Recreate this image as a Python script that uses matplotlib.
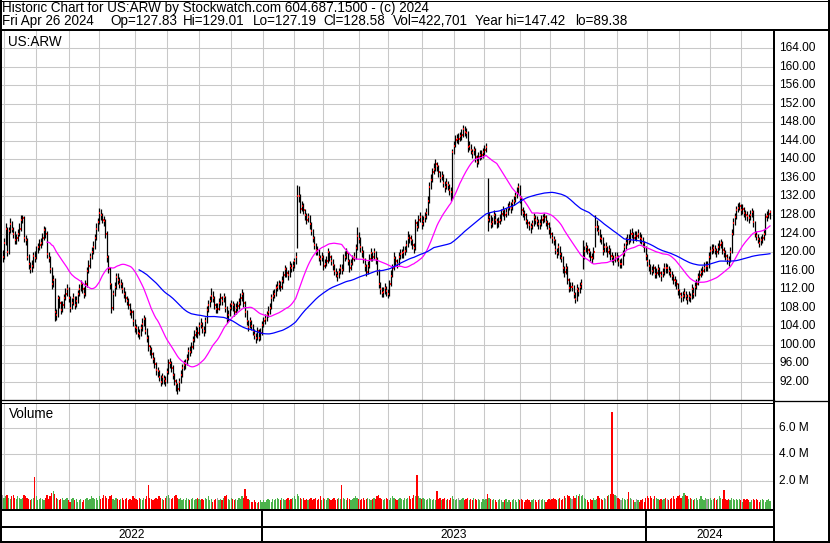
import numpy as np
import pandas as pd
import matplotlib
matplotlib.use('Agg')
import matplotlib.pyplot as plt

plt.rcParams['font.family'] = ['Liberation Sans', 'DejaVu Sans']

# trading calendar of the chart (NYSE holidays skipped)
start_day = '2022-04-29'
end_day = '2024-04-26'
holidays = ['2022-05-30', '2022-06-20', '2022-07-04', '2022-09-05', '2022-11-24',
            '2022-12-26', '2023-01-02', '2023-01-16', '2023-02-20', '2023-04-07',
            '2023-05-29', '2023-06-19', '2023-07-04', '2023-09-04', '2023-11-23',
            '2023-12-25', '2024-01-01', '2024-01-15', '2024-02-19', '2024-03-29']

# daily closes
close = [
    119, 122, 125, 120, 124.6, 126, 125, 124, 122.5, 123,
    124, 125, 127, 127.3, 123, 122.5, 119, 117.5, 116.4, 117,
    119.2, 118.8, 120.3, 121, 121.5, 122, 123, 124.7, 124, 119.5,
    118.8, 116.4, 113, 114, 107, 106.5, 110, 109, 107.5, 108.5,
    110, 111, 112, 110, 108, 109, 110, 108.6, 109.5, 111,
    112, 113, 112, 111, 113, 116, 117, 119, 120, 121,
    123, 125, 126.5, 128.5, 128, 127, 126.8, 124, 119, 116.4,
    113, 108, 111, 112.5, 114.5, 114, 113, 113.2, 112, 111,
    110, 109.5, 108.5, 107.1, 107, 105, 103.7, 103.5, 102.5, 102.3,
    103.5, 104.5, 105.5, 103, 101.5, 99.6, 99, 98, 97, 95.9,
    94.5, 94.2, 93, 92, 93, 92.5, 92.2, 94, 96, 96,
    95, 93.5, 92.2, 91.4, 90.5, 92, 93.5, 95, 95.5, 96,
    97, 98.7, 98.5, 99.5, 100.9, 102, 103, 102.5, 104, 104.5,
    103.5, 103, 105, 107.4, 108.5, 109.5, 110.6, 110, 108.5, 107.8,
    107.8, 109, 110, 109.5, 110.2, 108, 105.6, 106.5, 108, 108.7,
    108.5, 107, 108, 108.3, 109, 110, 111, 109, 107, 105,
    103.9, 105, 104, 103, 102, 101.5, 103, 101.5, 102.5, 104.3,
    105, 105.5, 106.3, 107, 108, 110, 110.5, 111, 112.3, 112.5,
    113, 112.5, 113.8, 115, 116.4, 115.5, 115, 117, 116.5, 117,
    118, 119, 132, 132.2, 129.4, 130, 129, 128, 127, 127.5,
    126, 124.5, 123.1, 121.5, 120.5, 120.3, 119, 118.4, 119, 117,
    117.5, 118, 119.9, 119, 118, 117.1, 116, 115.5, 114.9, 115.6,
    116.5, 116.2, 118.5, 119, 119.7, 118, 116.6, 117.5, 118.5, 119,
    120.8, 123.5, 122.9, 121, 120, 118.5, 117, 115.6, 117, 118.5,
    119.7, 119, 119.9, 118.5, 116, 113.2, 112, 111.2, 111.4, 112.3,
    111.5, 111, 113, 114.9, 116.5, 118.8, 118, 117.5, 119, 119.5,
    119.7, 120, 120.3, 121.5, 123.1, 123, 122.5, 121.5, 120.8, 126.2,
    125.5, 127, 127.5, 126, 126.8, 127.5, 128.5, 131, 134, 135.5,
    137.2, 138, 139.1, 138.5, 137.2, 136, 136.5, 135, 134, 135,
    134.4, 133.5, 133, 141.5, 143, 144.1, 144.5, 144.5, 145, 145.2,
    146.5, 146, 145.8, 142.6, 143, 142, 141.3, 142, 140.5, 139.4,
    140.5, 140.9, 141, 141.5, 142, 142.6, 127, 127.5, 126, 126.5,
    128, 127, 126.4, 126.5, 127, 128.3, 129, 128, 128.5, 129.6,
    130, 129.5, 130.5, 131.1, 132, 132.8, 134, 131.6, 129, 128.5,
    128, 126.8, 126.2, 125.8, 125.3, 126, 127.5, 127, 126.8, 126,
    126, 127, 127.3, 127.5, 126.5, 126, 125, 124, 123, 122.5,
    120.5, 119.7, 121, 119.5, 118.8, 116.5, 115.6, 116.6, 114, 112.3,
    112.5, 112.5, 111, 109.9, 112.1, 111.5, 112.5, 113.2, 119, 120.3,
    121, 120.5, 119.9, 119, 118.8, 120, 125.3, 125.5, 124.6, 123,
    122.9, 120.3, 121, 121, 120, 120.5, 119.2, 119, 118.2, 119,
    119, 118, 117.5, 117.5, 119.5, 121, 122, 122.9, 122.6, 124,
    124, 123, 123.5, 123.5, 124, 123, 122.9, 122, 121, 119.2,
    118, 117, 116.5, 116, 116.5, 115.3, 115.5, 116.4, 115.5, 114.9,
    115.5, 116.6, 116.5, 116.5, 116, 115.5, 114.9, 114, 113.8, 113,
    111.7, 111, 110.2, 110.5, 111.2, 110.5, 109.9, 110.5, 110.2, 112.1,
    111, 112.5, 113.2, 114.5, 115, 115.6, 116, 116.6, 117, 117,
    119, 120.3, 120.5, 120.8, 120.5, 119.9, 121, 121.5, 121.9, 120.5,
    120, 119.2, 118.5, 118.2, 120, 124, 126.2, 127.5, 129, 129.6,
    130, 129, 129.3, 128.5, 128, 127.8, 127.3, 128, 128.6, 126.4,
    124.2, 123.5, 122.9, 122, 122.5, 123, 124, 127.5, 127.8, 128.3,
    128.58]

# how far each day's high sits above the close
up = [
    1.5, 1.0, 1.2, 5.5, 0.8, 1.4, 1.6, 1.5, 2.0, 1.0,
    1.0, 1.2, 0.9, 0.8, 4.8, 1.2, 4.0, 2.0, 1.5, 1.2,
    0.8, 1.4, 1.0, 0.9, 1.3, 1.0, 1.2, 0.9, 1.5, 5.0,
    1.3, 2.8, 3.8, 1.0, 7.3, 1.2, 0.8, 1.5, 2.0, 1.0,
    1.0, 1.2, 1.0, 2.4, 2.5, 1.0, 1.2, 1.8, 1.0, 0.8,
    1.0, 0.9, 1.4, 1.5, 1.0, 0.8, 1.2, 0.8, 1.0, 1.3,
    1.0, 1.2, 0.9, 1.0, 1.2, 1.5, 1.0, 3.2, 5.5, 3.0,
    3.8, 5.4, 0.8, 1.0, 1.0, 1.4, 1.5, 1.0, 1.6, 1.4,
    1.5, 1.0, 1.5, 1.9, 0.8, 2.4, 1.8, 1.0, 1.5, 1.0,
    1.0, 1.2, 1.0, 3.0, 2.0, 2.4, 1.0, 1.5, 1.4, 1.5,
    1.8, 1.0, 1.6, 1.4, 0.8, 1.0, 1.0, 0.9, 0.8, 1.2,
    1.4, 2.0, 1.7, 1.2, 1.3, 0.8, 1.0, 0.9, 1.2, 1.0,
    1.0, 0.8, 1.2, 1.0, 0.9, 1.2, 1.0, 1.4, 0.8, 1.2,
    1.4, 1.0, 0.9, 1.0, 1.2, 1.0, 1.7, 1.5, 1.9, 1.2,
    1.2, 1.0, 1.2, 1.0, 1.0, 2.6, 2.8, 1.0, 0.9, 1.0,
    1.0, 1.9, 1.0, 1.2, 1.0, 1.2, 1.0, 2.4, 2.4, 2.5,
    1.5, 1.0, 1.4, 1.4, 1.3, 1.0, 0.8, 1.9, 1.0, 0.9,
    1.0, 1.2, 1.0, 1.3, 1.0, 0.9, 1.2, 1.0, 0.9, 1.2,
    1.0, 1.2, 1.0, 1.0, 0.9, 1.3, 1.2, 1.0, 1.2, 1.0,
    0.8, 1.0, 2.4, 2.0, 3.2, 1.0, 1.5, 1.4, 1.5, 1.0,
    1.9, 2.0, 1.8, 2.0, 1.5, 1.0, 1.6, 1.0, 0.9, 2.4,
    1.0, 1.2, 1.0, 1.3, 1.4, 1.3, 1.5, 1.0, 1.0, 1.0,
    1.0, 1.3, 1.0, 1.2, 1.2, 2.1, 1.8, 1.0, 0.9, 1.0,
    1.0, 1.8, 1.5, 2.3, 1.4, 1.9, 1.8, 1.8, 1.0, 1.0,
    1.2, 1.1, 1.0, 1.8, 2.9, 3.2, 1.6, 1.2, 1.0, 1.0,
    1.2, 1.0, 1.0, 1.2, 1.0, 1.2, 1.2, 1.0, 1.0, 1.2,
    1.0, 1.2, 1.0, 1.0, 1.5, 1.0, 1.2, 1.4, 1.1, 1.0,
    1.1, 1.0, 1.2, 1.9, 1.0, 1.2, 1.0, 1.0, 1.2, 1.3,
    1.0, 1.2, 1.0, 1.0, 1.7, 1.6, 1.0, 1.9, 1.4, 1.0,
    1.0, 1.3, 1.0, 0.8, 1.0, 1.2, 1.0, 1.2, 1.0, 1.3,
    0.9, 1.2, 1.0, 3.5, 1.0, 1.4, 1.0, 1.0, 1.9, 1.5,
    1.0, 1.2, 1.0, 1.0, 1.2, 1.0, 9.0, 1.2, 1.9, 1.0,
    1.0, 1.4, 1.0, 1.0, 1.2, 1.0, 1.0, 1.4, 1.0, 1.0,
    1.0, 1.2, 1.0, 1.0, 1.0, 1.2, 1.0, 2.8, 3.0, 1.2,
    1.0, 1.6, 1.0, 1.0, 1.0, 1.0, 1.0, 1.0, 1.0, 1.2,
    1.2, 1.0, 1.0, 1.0, 1.4, 1.0, 1.4, 1.4, 1.4, 1.0,
    2.4, 1.2, 1.0, 1.9, 1.1, 2.7, 1.3, 1.0, 3.0, 2.1,
    1.0, 1.0, 1.9, 1.5, 1.0, 1.0, 1.0, 1.0, 3.5, 1.0,
    1.2, 1.0, 1.0, 1.3, 1.0, 1.0, 2.6, 1.4, 1.3, 2.0,
    1.0, 3.0, 1.0, 1.2, 1.4, 1.0, 1.7, 1.0, 1.2, 1.0,
    1.0, 1.4, 1.0, 1.2, 1.0, 1.0, 1.2, 1.0, 1.2, 1.0,
    1.2, 1.4, 1.0, 1.0, 1.0, 1.4, 1.0, 1.3, 1.4, 2.2,
    1.6, 1.4, 1.0, 1.0, 1.0, 1.6, 1.0, 1.0, 1.3, 1.0,
    1.0, 1.0, 1.2, 1.0, 1.0, 1.0, 1.0, 1.3, 1.0, 1.2,
    1.7, 1.1, 1.2, 1.0, 1.0, 1.1, 1.0, 1.0, 1.0, 0.9,
    1.5, 1.0, 1.0, 1.0, 1.2, 1.0, 1.0, 1.2, 1.0, 1.0,
    1.0, 1.0, 1.2, 1.0, 1.0, 1.0, 1.0, 1.2, 1.0, 1.8,
    1.0, 1.2, 1.1, 1.0, 1.0, 1.0, 1.2, 1.0, 1.0, 1.0,
    0.9, 1.4, 1.0, 1.2, 1.0, 1.0, 1.0, 1.0, 1.0, 2.6,
    2.6, 1.1, 1.0, 1.3, 1.0, 1.0, 1.0, 1.0, 1.0, 1.0,
    0.43]

# how far each day's low sits below the close
dn = [
    1.2, 3.5, 3.4, 0.8, 5.0, 1.8, 0.7, 0.9, 0.8, 1.2,
    1.6, 1.5, 2.4, 1.0, 0.9, 1.0, 0.8, 1.2, 0.9, 1.3,
    2.6, 1.0, 1.8, 1.3, 1.0, 1.2, 1.5, 2.0, 1.0, 0.8,
    0.9, 1.0, 1.0, 1.5, 2.0, 1.2, 4.0, 1.0, 0.8, 1.5,
    2.0, 1.4, 1.5, 0.8, 1.0, 1.4, 1.5, 0.8, 1.3, 2.0,
    1.5, 1.4, 0.9, 1.0, 2.5, 3.5, 1.5, 2.4, 1.5, 1.4,
    2.4, 2.5, 2.0, 2.5, 1.0, 0.8, 1.2, 0.9, 1.2, 1.0,
    1.0, 1.2, 3.5, 2.0, 2.4, 0.9, 0.8, 1.0, 0.8, 1.0,
    0.8, 1.0, 0.9, 0.8, 1.2, 1.0, 0.9, 1.2, 0.8, 1.0,
    1.6, 1.5, 1.4, 0.8, 1.0, 1.0, 1.2, 0.8, 1.0, 0.9,
    1.0, 1.2, 0.9, 1.0, 1.4, 1.0, 1.2, 2.2, 2.4, 1.1,
    1.0, 0.9, 1.0, 1.5, 1.1, 2.0, 1.8, 1.9, 1.0, 1.2,
    1.5, 2.1, 1.0, 1.4, 1.8, 1.5, 1.4, 1.0, 1.9, 1.0,
    1.0, 1.2, 2.4, 2.8, 1.5, 1.3, 1.4, 0.9, 0.8, 1.0,
    1.0, 1.5, 1.4, 1.0, 1.1, 0.9, 1.0, 1.3, 1.9, 1.2,
    1.2, 0.8, 1.4, 1.0, 1.2, 1.4, 1.5, 0.9, 1.0, 0.8,
    1.0, 1.5, 0.9, 1.0, 0.8, 1.2, 1.9, 0.8, 1.4, 2.2,
    1.2, 1.0, 1.3, 1.1, 1.4, 2.4, 1.0, 1.0, 1.7, 1.0,
    1.0, 0.9, 1.7, 1.6, 1.8, 1.0, 1.0, 2.4, 0.9, 1.0,
    1.4, 1.5, 11.2, 1.5, 1.0, 1.2, 0.8, 1.0, 1.0, 1.0,
    1.0, 0.9, 1.0, 0.8, 1.2, 1.0, 0.9, 1.2, 1.0, 0.8,
    1.0, 1.0, 2.3, 1.0, 0.8, 0.9, 1.0, 1.0, 1.2, 1.2,
    1.3, 1.0, 2.6, 1.0, 1.1, 0.9, 1.0, 1.3, 1.4, 1.0,
    2.2, 3.0, 1.0, 0.9, 1.0, 0.9, 1.0, 0.8, 1.8, 1.9,
    1.6, 1.0, 1.3, 1.0, 0.9, 1.0, 1.0, 1.0, 1.2, 1.3,
    1.0, 1.0, 2.4, 2.3, 2.0, 2.7, 1.0, 1.0, 1.9, 1.0,
    1.0, 1.2, 1.0, 1.6, 2.0, 1.0, 1.0, 0.9, 1.0, 5.8,
    1.0, 1.9, 1.0, 1.0, 1.2, 1.1, 1.4, 2.9, 3.4, 1.9,
    2.1, 1.2, 1.5, 1.0, 1.0, 0.9, 1.0, 1.0, 1.0, 1.4,
    1.0, 1.2, 2.0, 10.0, 1.9, 1.5, 1.0, 1.2, 1.0, 1.0,
    1.7, 1.0, 1.2, 0.9, 1.0, 0.9, 1.0, 1.1, 1.0, 1.0,
    1.5, 1.0, 1.0, 1.2, 1.0, 1.0, 2.4, 1.0, 0.8, 1.0,
    1.9, 1.0, 1.2, 1.0, 1.0, 1.6, 1.2, 1.0, 1.0, 1.5,
    1.0, 1.0, 1.4, 1.0, 1.3, 1.2, 1.5, 1.0, 1.0, 1.0,
    1.0, 0.8, 1.0, 1.0, 1.2, 1.1, 1.9, 1.0, 1.2, 1.0,
    1.0, 1.4, 1.0, 1.0, 0.8, 1.0, 1.0, 0.9, 1.0, 1.0,
    1.0, 1.0, 1.7, 1.0, 1.0, 1.0, 1.0, 1.4, 0.8, 1.0,
    1.0, 1.0, 1.0, 0.9, 2.6, 1.0, 1.4, 1.1, 2.6, 1.7,
    1.1, 1.0, 1.0, 1.0, 1.2, 1.6, 4.3, 1.0, 1.0, 0.9,
    1.2, 1.0, 1.1, 1.0, 1.0, 1.0, 1.0, 1.2, 1.0, 1.2,
    1.0, 1.0, 1.0, 1.0, 2.4, 1.9, 1.4, 1.3, 0.9, 1.8,
    1.0, 1.0, 1.0, 1.2, 1.0, 1.0, 1.2, 1.0, 1.0, 1.0,
    1.0, 1.0, 1.2, 1.0, 1.0, 1.0, 1.2, 1.3, 1.0, 1.2,
    1.0, 1.5, 1.0, 1.0, 1.0, 1.0, 1.0, 1.0, 1.2, 1.0,
    1.0, 1.0, 1.0, 1.0, 1.1, 0.9, 1.2, 1.0, 1.0, 2.3,
    1.0, 1.9, 1.1, 1.7, 1.0, 1.0, 1.0, 1.0, 1.0, 1.0,
    2.4, 1.7, 1.0, 1.0, 1.0, 1.0, 1.5, 1.0, 1.0, 1.0,
    1.0, 1.0, 1.0, 1.2, 2.2, 4.3, 2.6, 1.7, 1.9, 1.0,
    1.0, 1.0, 1.0, 1.0, 1.0, 1.0, 1.0, 1.1, 1.0, 1.0,
    1.0, 1.0, 1.0, 1.0, 1.0, 1.0, 1.4, 3.9, 1.0, 1.0,
    1.39]

# daily volume, millions of shares
volume_m = [
    0.9, 0.7, 0.8, 0.9, 0.7, 0.6, 0.8, 0.9, 0.7, 0.6,
    0.8, 0.7, 0.6, 0.7, 0.9, 0.8, 0.7, 0.6, 0.5, 0.6,
    0.7, 2.3, 0.8, 0.5, 0.6, 0.7, 0.6, 0.5, 0.7, 0.9,
    0.6, 0.8, 1.1, 1.2, 1.0, 0.7, 0.6, 0.5, 0.6, 0.7,
    0.5, 0.6, 0.7, 0.5, 0.4, 0.6, 0.7, 0.5, 0.6, 0.4,
    0.5, 0.6, 0.4, 0.5, 0.6, 0.7, 0.5, 0.6, 0.8, 0.7,
    0.6, 0.7, 0.5, 0.8, 0.6, 0.7, 0.9, 0.8, 0.7, 0.6,
    0.8, 0.9, 0.6, 0.5, 0.7, 0.6, 0.5, 0.6, 0.7, 0.5,
    0.6, 0.7, 0.5, 0.6, 0.5, 0.8, 0.7, 0.6, 0.5, 0.7,
    0.6, 0.5, 0.7, 0.6, 0.8, 1.7, 0.7, 0.6, 0.5, 0.6,
    0.7, 0.6, 0.8, 0.7, 0.6, 0.5, 0.7, 0.8, 0.9, 0.7,
    0.6, 0.7, 0.8, 0.9, 0.7, 0.6, 0.7, 0.5, 0.6, 0.5,
    0.7, 0.6, 0.5, 0.6, 0.7, 0.5, 0.6, 0.7, 0.6, 0.5,
    0.6, 0.5, 0.7, 0.6, 0.8, 0.5, 0.6, 0.4, 0.5, 0.6,
    0.7, 0.5, 0.6, 0.5, 0.7, 0.8, 0.9, 0.6, 0.5, 0.7,
    0.6, 0.5, 0.6, 0.5, 0.7, 0.6, 0.8, 0.7, 1.4, 0.8,
    0.6, 0.5, 0.4, 0.4, 0.5, 0.4, 0.3, 0.4, 0.5, 0.4,
    0.5, 0.4, 0.5, 0.6, 0.5, 0.4, 0.6, 0.5, 0.6, 0.7,
    0.6, 0.5, 0.7, 0.6, 0.5, 0.6, 0.7, 0.5, 0.6, 0.7,
    0.8, 0.6, 1.0, 0.8, 0.7, 0.6, 0.7, 0.5, 0.6, 0.5,
    0.6, 0.7, 0.5, 0.6, 0.7, 0.5, 0.6, 0.8, 0.5, 0.7,
    0.6, 0.5, 0.7, 0.6, 0.5, 0.6, 0.7, 0.5, 0.6, 0.7,
    0.6, 1.7, 0.7, 0.6, 0.5, 0.7, 0.6, 0.5, 0.6, 0.7,
    0.8, 0.7, 0.6, 0.5, 0.6, 0.7, 0.5, 0.6, 0.7, 0.6,
    0.5, 0.6, 0.7, 0.6, 0.8, 0.9, 0.7, 0.6, 0.5, 0.6,
    0.7, 0.6, 0.5, 0.7, 0.8, 0.7, 0.6, 0.5, 0.6, 0.7,
    0.6, 0.5, 0.7, 0.6, 0.7, 0.8, 0.6, 0.7, 0.9, 0.8,
    2.4, 0.8, 0.7, 0.6, 0.7, 0.6, 0.5, 0.6, 0.7, 0.6,
    0.5, 0.6, 0.5, 1.2, 0.6, 0.7, 0.5, 0.6, 0.7, 0.5,
    0.6, 0.5, 0.7, 0.8, 0.6, 0.5, 0.6, 0.7, 0.5, 0.6,
    0.7, 0.5, 0.6, 0.7, 0.5, 0.6, 0.5, 0.7, 0.6, 0.5,
    0.6, 0.5, 0.4, 0.6, 0.5, 0.6, 1.0, 0.7, 0.6, 0.5,
    0.6, 0.5, 0.4, 0.5, 0.6, 0.5, 0.4, 0.5, 0.6, 0.4,
    0.5, 0.4, 0.5, 0.6, 0.5, 0.4, 0.6, 0.5, 0.6, 0.5,
    0.4, 0.5, 0.6, 0.5, 0.4, 0.5, 0.6, 0.5, 0.4, 0.5,
    0.6, 0.5, 0.6, 0.5, 0.4, 0.5, 0.6, 0.5, 0.6, 0.7,
    0.6, 0.5, 0.6, 0.7, 0.5, 0.6, 0.8, 0.7, 0.9, 0.8,
    0.7, 0.6, 0.8, 0.7, 0.9, 0.8, 1.0, 0.8, 0.9, 0.7,
    0.6, 0.5, 0.4, 0.6, 0.5, 0.7, 0.5, 0.6, 0.8, 0.7,
    0.6, 0.5, 0.7, 0.6, 0.8, 0.9, 1.0, 7.2, 1.0, 0.9,
    0.8, 0.7, 0.6, 0.5, 0.7, 0.6, 0.5, 0.6, 1.15, 0.7,
    0.6, 0.5, 0.4, 0.6, 0.5, 0.4, 0.5, 0.6, 0.4, 0.7,
    0.8, 0.7, 0.8, 0.7, 0.6, 0.8, 0.7, 0.6, 0.5, 0.6,
    0.5, 0.6, 0.7, 0.6, 0.5, 0.6, 0.7, 0.8, 0.6, 0.7,
    0.8, 0.9, 0.7, 0.8, 1.1, 0.9, 0.8, 0.6, 0.7, 0.6,
    0.5, 0.6, 0.7, 0.5, 0.6, 0.8, 0.6, 0.5, 0.7, 0.6,
    0.6, 0.7, 0.5, 0.6, 0.7, 0.5, 0.6, 0.8, 0.7, 0.6,
    1.3, 0.6, 0.5, 0.6, 0.5, 0.7, 0.6, 0.5, 0.6, 0.5,
    0.6, 0.5, 0.4, 0.6, 0.5, 0.6, 0.5, 0.4, 0.5, 0.6,
    0.5, 0.6, 0.5, 0.4, 0.5, 0.6, 0.5, 0.4, 0.5, 0.6,
    0.42]

ma_short, ma_long = 30, 90
price_ticks = np.arange(92, 165, 4)
vol_ticks = [2, 4, 6]

title_line = 'Historic Chart for US:ARW by Stockwatch.com 604.687.1500 - (c) 2024'
quote_fields = [(2, 'Fri Apr 26 2024'), (110, 'Op=127.83'), (183, 'Hi=129.01'),
                (253, 'Lo=127.19'), (323, 'Cl=128.58'), (393, 'Vol=422,701'),
                (475, 'Year hi=147.42'), (575, 'lo=89.38')]

W, H = 830, 543
GRID = '#c8c8c8'
UPC, DNC, FLAT = '#4cb34c', '#ff0000', '#a0a0a0'
FS = 8.6      # axis and year labels
FS_HEAD = 9.75  # header and panel names


def frac(x0, y0, x1, y1):
    return [x0 / W, 1 - y1 / H, (x1 - x0) / W, (y1 - y0) / H]


days = pd.bdate_range(start_day, end_day, freq='C', holidays=holidays)
cl = np.array(close, float)
if len(days) != len(cl):
    raise SystemExit('calendar %d vs data %d' % (len(days), len(cl)))
hi = cl + np.array(up)
lo = cl - np.array(dn)
vol = np.array(volume_m) * 1e6
idx = np.arange(len(cl))
months = days.month.values
years = days.year.values
month_starts = idx[1:][months[1:] != months[:-1]]
year_starts = idx[1:][years[1:] != years[:-1]]

# x scale: first bar at 2.5 px, 1.535 px per trading day, panel 774 px wide
px_day = 1.535
xmin = -2.5 / px_day
xmax = xmin + 774 / px_day

fig = plt.figure(figsize=(W / 100, H / 100), dpi=100)

# price panel
ax = fig.add_axes(frac(0, 31, 774, 400))
ax.set_xlim(xmin, xmax)
ax.set_ylim(88.04, 167.74)
for p in price_ticks:
    ax.axhline(p, color=GRID, lw=0.75, zorder=0)
for m in month_starts:
    ax.axvline(m, color=GRID, lw=0.75, zorder=0)
ax.vlines(idx, lo, hi, color='black', lw=0.9, zorder=2)
ax.hlines(cl, idx + 0.15, idx + 0.8, color='red', lw=1.4, zorder=3)
s = pd.Series(cl)
ax.plot(idx, s.rolling(ma_short).mean(), color='#ff00ff', lw=0.9, zorder=4)
ax.plot(idx, s.rolling(ma_long).mean(), color='#0000ff', lw=0.9, zorder=4)
for p in price_ticks:
    ax.text(779 / 774, p, '%.2f' % p, transform=ax.get_yaxis_transform(),
            ha='left', va='center', fontsize=FS, clip_on=False)
ax.set_xticks([])
ax.set_yticks([])
for sp in ax.spines.values():
    sp.set_visible(False)

# volume panel
av = fig.add_axes(frac(0, 403, 774, 509))
av.set_xlim(xmin, xmax)
av.set_ylim(-0.152e6, 7.91e6)
for v in vol_ticks:
    av.axhline(v * 1e6, color=GRID, lw=0.75, zorder=0)
for m in month_starts:
    av.axvline(m, color=GRID, lw=0.75, zorder=0)
chg = np.diff(cl, prepend=cl[0])
colors = [UPC if d > 0 else DNC if d < 0 else FLAT for d in chg]
av.bar(idx, vol + 0.152e6, bottom=-0.152e6, width=0.8, color=colors, lw=0, zorder=2)
for v in vol_ticks:
    av.text(779 / 774, v * 1e6, '%.1f M' % v, transform=av.get_yaxis_transform(),
            ha='left', va='center', fontsize=FS, clip_on=False)
av.set_xticks([])
av.set_yticks([])
for sp in av.spines.values():
    sp.set_visible(False)

# frame, header and date band drawn in pixel units
ov = fig.add_axes([0, 0, 1, 1], zorder=10)
ov.set_xlim(0, W)
ov.set_ylim(H, 0)
ov.axis('off')
ov.patch.set_alpha(0)


def px(v):
    return v * 0.72


def to_px(i):
    return (i - xmin) / (xmax - xmin) * 774


ov.plot([0, W], [30, 30], color='black', lw=px(2))
ov.plot([1, 1], [0, H], color='black', lw=px(2))
ov.plot([829, 829], [0, H], color='black', lw=px(2))
ov.plot([0, W], [0.5, 0.5], color='black', lw=px(1))
ov.plot([774, 774], [30, H], color='black', lw=px(2))
ov.plot([0, 774], [400.2, 400.2], color='black', lw=px(1.3))
ov.plot([0, 774], [403, 403], color='black', lw=px(1))
ov.plot([774, W], [400.5, 400.5], color='black', lw=px(1.3))
ov.plot([0, 774], [509.5, 509.5], color='black', lw=px(2))
ov.plot([0, 774], [526.7, 526.7], color='black', lw=px(2))
ov.plot([0, W], [542, 542], color='black', lw=px(2))

seps = [to_px(y) - 1.5 for y in year_starts]
for xs in seps:
    ov.plot([xs, xs], [509.5, 542], color='black', lw=px(2))
edges = [1] + seps + [774]
for k, yr in enumerate(sorted(set(years))):
    ov.text((edges[k] + edges[k + 1]) / 2, 534.5, str(yr), ha='center', va='center',
            fontsize=FS)

ov.text(2, 12, title_line, ha='left', va='baseline', fontsize=FS_HEAD)
for xq, txt in quote_fields:
    ov.text(xq, 25, txt, ha='left', va='baseline', fontsize=FS_HEAD)
ov.text(8, 46, 'US:ARW', ha='left', va='baseline', fontsize=FS_HEAD)
ov.text(9, 418, 'Volume', ha='left', va='baseline', fontsize=FS_HEAD)

fig.savefig('out.png', dpi=100)
